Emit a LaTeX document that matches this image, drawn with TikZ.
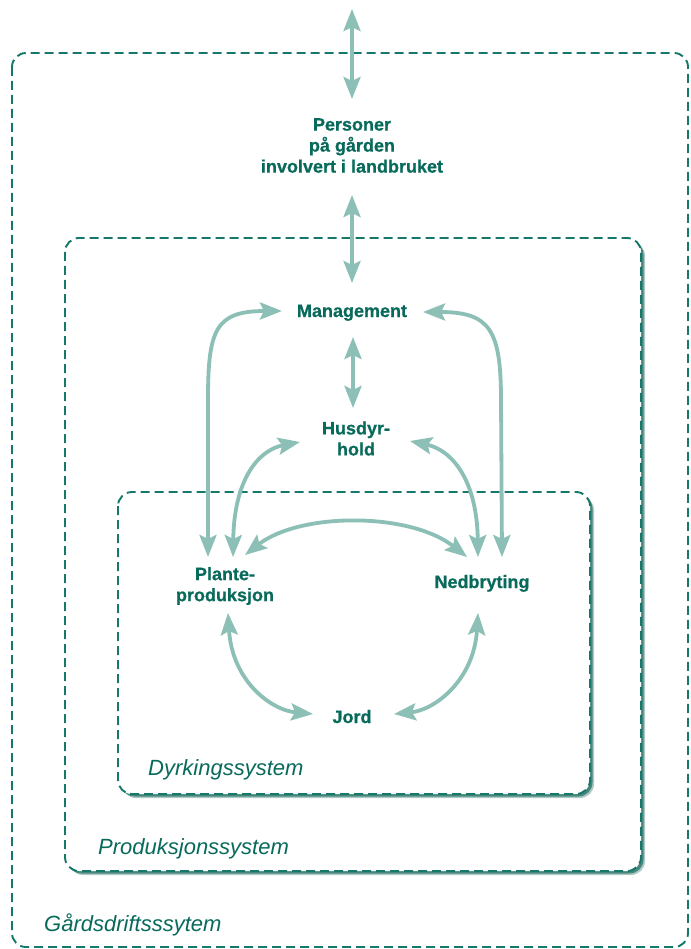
\documentclass[tikz,border=0pt]{standalone}
\usepackage{fontspec}
\setmainfont{Liberation Sans}[BoldFeatures={FakeBold=0.6}]
\usetikzlibrary{arrows.meta,calc}
\definecolor{textc}{HTML}{086A5B}
\definecolor{arrowc}{HTML}{8CBFB5}
\definecolor{dashc}{HTML}{15786A}
\definecolor{shadowc}{HTML}{1A6A5C}
\begin{document}
\begin{tikzpicture}[x=1pt,y=-1pt,
  lbl/.style={text=textc, font=\bfseries\fontsize{18}{21}\selectfont, inner sep=0pt, align=center},
  sysl/.style={text=textc, font=\itshape\fontsize{22}{26}\selectfont, inner sep=0pt, anchor=base west},
  tipa/.tip={Stealth[length=22pt,width=17pt,inset=4pt]},
  arr/.style={draw=arrowc, line width=3.8pt, tipa-tipa},
  sysbox/.style={draw=dashc, line width=1.9pt, dash pattern=on 9pt off 5pt, rounded corners=14pt, fill=white},
  shad/.style={fill=shadowc, rounded corners=14pt},
]
\useasboundingbox[fill=white] (0,0) rectangle (690,949);
% boxes
\draw[sysbox] (12,53) rectangle (688,947);
\fill[shad, opacity=0.35] (69,242) rectangle (645,875);
\fill[shad, opacity=0.7] (67.5,240.5) rectangle (643.5,873.5);
\draw[sysbox] (65,238) rectangle (641,871);
\fill[shad, opacity=0.35] (122,496) rectangle (594,798);
\fill[shad, opacity=0.7] (120.5,494.5) rectangle (592.5,796.5);
\draw[sysbox] (118,492) rectangle (590,794);
% labels
\node[lbl] (personer) at (352,145.5) {Personer\\på gården\\involvert i landbruket};
\node[lbl, anchor=base] (mgmt) at (352,317) {Management};
\node[lbl] (husdyr) at (356,438.5) {Husdyr-\\hold};
\node[lbl] (plante) at (225,586) {Plante-\\produksjon};
\node[lbl, anchor=base] (ned) at (482,588) {Nedbryting};
\node[lbl, anchor=base] (jord) at (352,723) {Jord};
\node[sysl] (dyrk) at (148,775) {Dyrkingssystem};
\node[sysl] (prod) at (98,854) {Produksjonssystem};
\node[sysl] (gard) at (44,931) {Gårdsdriftsssytem};
\coordinate (topend) at (352,9);
% arrows
\draw[arr] (topend) -- ($(personer)+(0,-46.5)$);
\draw[arr] ($(personer)+(0,49.5)$) -- ($(mgmt.base)+(0,-34)$);
\draw[arr] ($(mgmt.base)+(1,20)$) -- ($(husdyr)+(-3,-30.5)$);
\draw[arr] ($(mgmt.base)+(-70,-6)$) .. controls (215,311) and (208,330) .. (208,400) -- ($(plante)+(-17,-29)$);
\draw[arr] ($(mgmt.base)+(71,-5)$) .. controls (490,312) and (501,330) .. (501,400) -- ($(ned.base)+(20,-31)$);
\draw[arr] ($(husdyr)+(-56,3.5)$) .. controls (258,450) and (234,480) .. ($(plante)+(8,-29)$);
\draw[arr] ($(husdyr)+(54,2.5)$) .. controls (452,450) and (477,480) .. ($(ned.base)+(-4,-31)$);
\draw[arr] ($(plante)+(20,-31)$) .. controls (300,512) and (410,512) .. ($(ned.base)+(-15,-31)$);
\draw[arr] ($(plante)+(3,27)$) .. controls (232,680) and (270,710) .. ($(jord.base)+(-39,-9)$);
\draw[arr] ($(ned.base)+(-4,25)$) .. controls (474,680) and (435,710) .. ($(jord.base)+(42,-9)$);
\end{tikzpicture}
\end{document}
